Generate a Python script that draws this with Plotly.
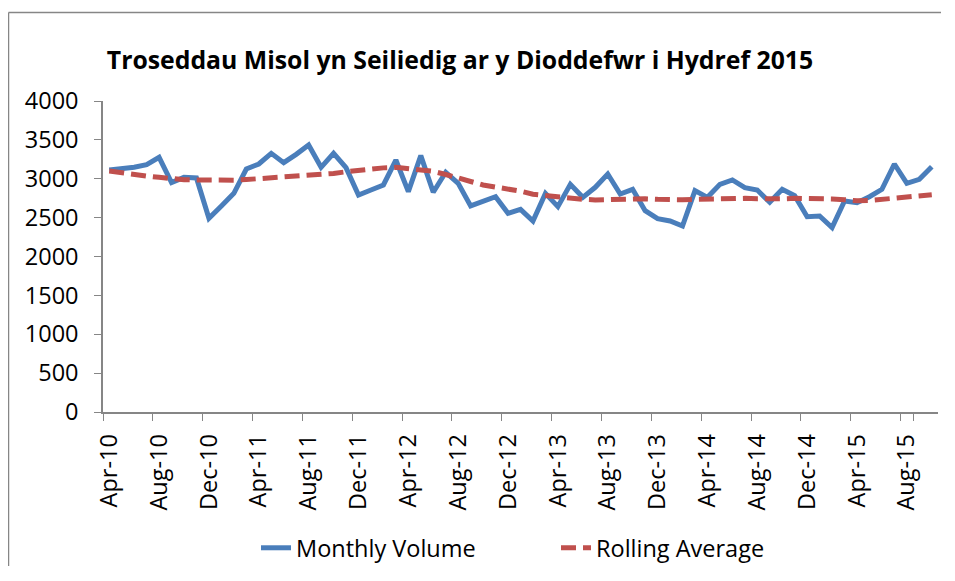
import pandas as pd
import plotly.graph_objects as go

months = [d.strftime("%b-%y") for d in pd.date_range("2010-04-01", "2015-10-01", freq="MS")]

monthly_volume = [
    3112, 3125, 3147, 3181, 3275, 2950, 3018, 3010, 2491, 2650,
    2812, 3125, 3190, 3327, 3207, 3314, 3434, 3147, 3327, 3142,
    2791, 2855, 2920, 3241, 2834, 3297, 2826, 3083, 2941, 2650,
    2714, 2769, 2555, 2607, 2457, 2812, 2641, 2928, 2761, 2890,
    3061, 2804, 2864, 2589, 2487, 2457, 2392, 2847, 2761, 2928,
    2984, 2885, 2855, 2697, 2864, 2782, 2512, 2521, 2371, 2714,
    2692, 2769, 2864, 3190, 2941, 2993, 3155,
]

rolling_average = [
    3100, 3075, 3055, 3035, 3018, 2995, 2988, 2984, 2978, 2978,
    2982, 2990, 3000, 3010, 3018, 3025, 3035, 3050, 3068, 3090,
    3110, 3125, 3140, 3147, 3128, 3112, 3095, 3055, 3018, 2965,
    2920, 2895, 2870, 2840, 2800, 2780, 2760, 2748, 2735, 2728,
    2735, 2740, 2742, 2742, 2735, 2728, 2730, 2735, 2740, 2745,
    2750, 2748, 2742, 2737, 2742, 2748, 2748, 2744, 2740, 2730,
    2716, 2720, 2733, 2745, 2765, 2780, 2795,
]

y_ticks = [0, 500, 1000, 1500, 2000, 2500, 3000, 3500, 4000]
x_tick_labels = months[::4]

title_text = "Troseddau Misol yn Seiliedig ar y Dioddefwr i Hydref 2015"
font_family = "Open Sans"
axis_color = "#868686"

# figure is placed 8px in from the page corner (default body margin);
# keep it small enough that the page does not overflow (no scrollbars)
W, H = 936, 558
L, R, T, B = 95, 930, 93, 404
PW, PH = R - L, B - T

fig = go.Figure()
fig.add_trace(go.Scatter(
    x=months, y=monthly_volume, mode="lines", name="Monthly Volume",
    line=dict(color="#4A7EBB", width=5),
))
fig.add_trace(go.Scatter(
    x=months, y=rolling_average, mode="lines", name="Rolling Average",
    line=dict(color="#C0504D", width=5, dash="15px,7px"),
))

border = dict(color=axis_color, width=1.5)
fig.update_layout(
    width=W, height=H,
    margin=dict(l=L, r=W - R, t=T, b=H - B, autoexpand=False),
    paper_bgcolor="white", plot_bgcolor="white",
    font=dict(family=font_family, size=23, color="black"),
    title=dict(text="<b>" + title_text + "</b>", x=452 / W, xanchor="center",
               y=1 - 52 / H, yanchor="middle", yref="container",
               font=dict(family=font_family, size=24.8, color="black")),
    showlegend=True,
    legend=dict(orientation="h", x=(248 - L) / PW, xanchor="left",
                y=(B - 540) / PH, yanchor="middle",
                font=dict(family=font_family, size=23.5),
                entrywidth=255, entrywidthmode="pixels",
                bgcolor="rgba(0,0,0,0)"),
    shapes=[
        dict(type="line", xref="paper", yref="paper",
             x0=(0.5 - L) / PW, x1=(0.5 - L) / PW,
             y0=(B - H) / PH, y1=(B - 4.5) / PH, line=border, layer="below"),
        dict(type="line", xref="paper", yref="paper",
             x0=(0.5 - L) / PW, x1=(W - 3 - L) / PW,
             y0=(B - 4.5) / PH, y1=(B - 4.5) / PH, line=border, layer="below"),
    ],
)

fig.update_xaxes(
    type="category", range=[-0.5, len(months) - 0.5],
    tickmode="array", tickvals=x_tick_labels, ticktext=x_tick_labels,
    tickson="boundaries", ticks="outside", ticklen=7, tickcolor=axis_color,
    tickangle=-90, showline=True, linecolor=axis_color, linewidth=1.5,
    showgrid=False, zeroline=False, ticklabelstandoff=11,
    tickfont=dict(family=font_family, size=23.5),
)
fig.update_yaxes(
    range=[0, 4000], tickmode="array", tickvals=y_ticks,
    ticks="outside", ticklen=7, tickcolor=axis_color,
    showline=True, linecolor=axis_color, linewidth=1.5,
    showgrid=False, zeroline=False, ticklabelstandoff=11,
    tickfont=dict(family=font_family, size=23.5),
)

fig.write_html("out.html")
